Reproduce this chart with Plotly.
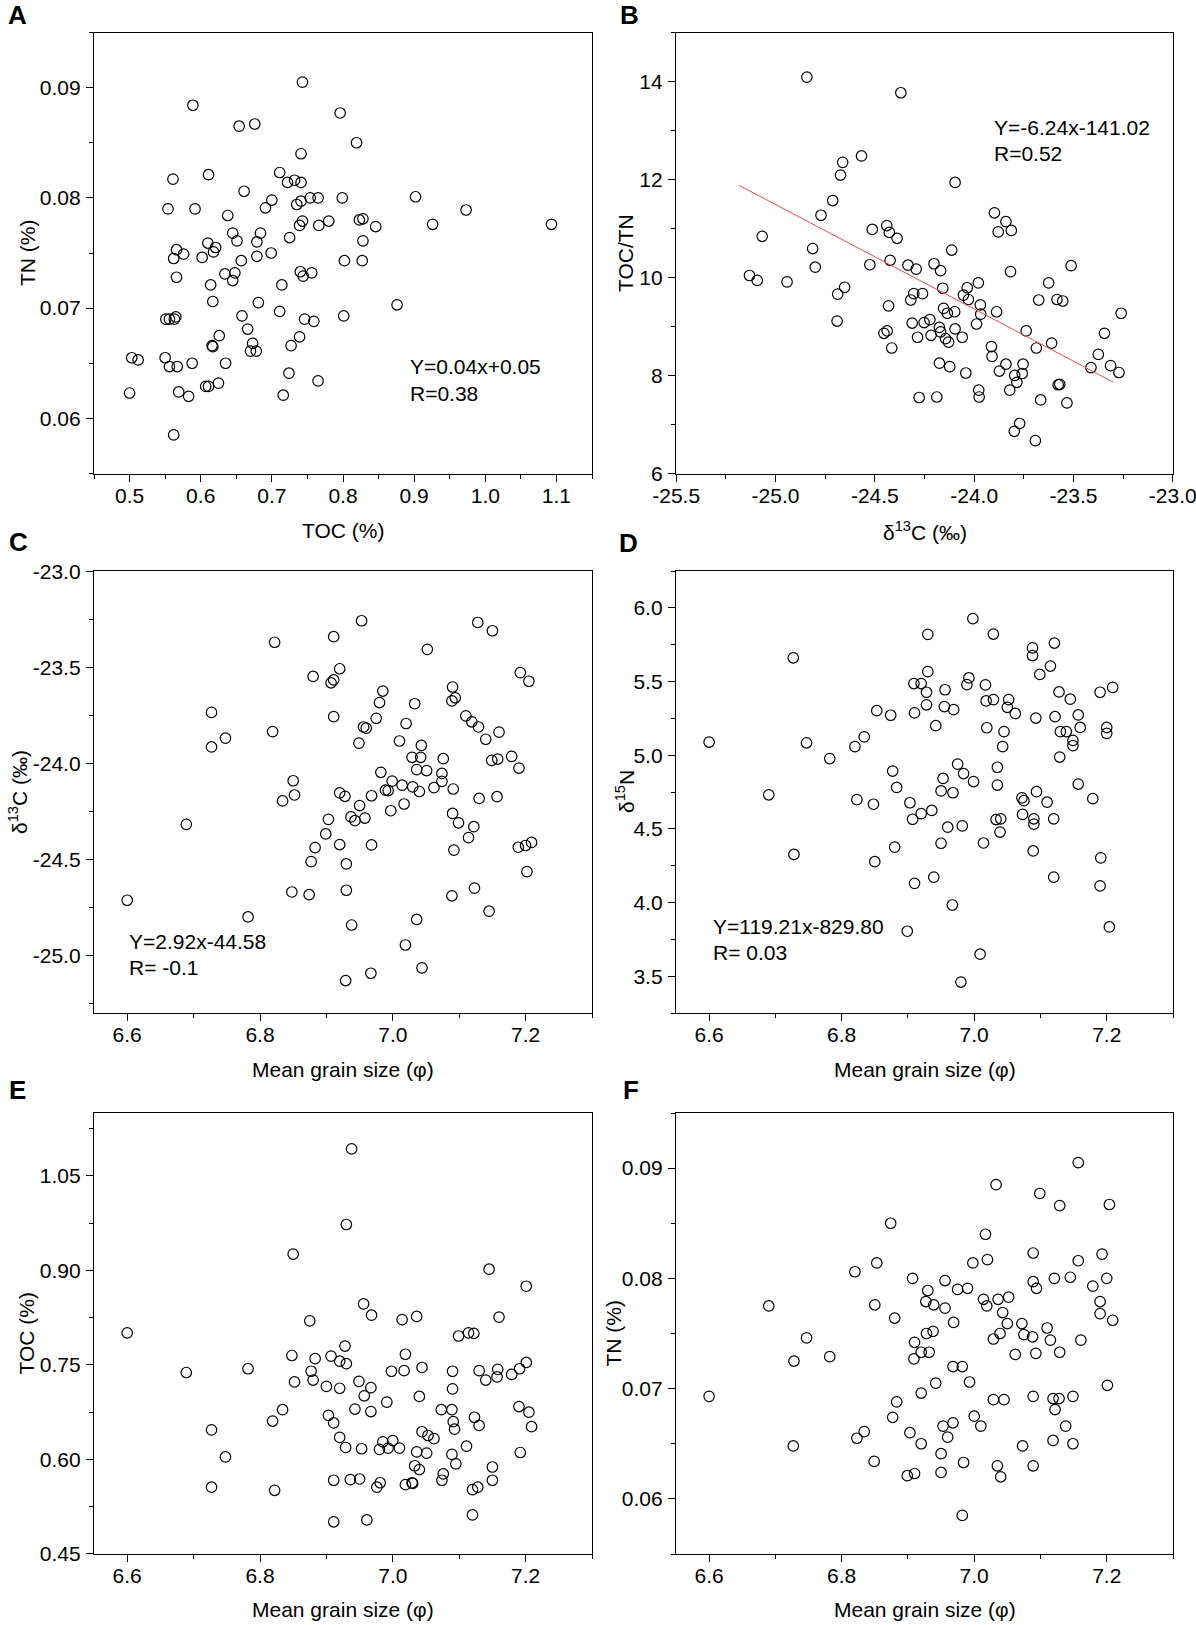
import plotly.graph_objects as go

W, H = 1196, 1625

# --- A: TOC x TN ---
a_toc = [0.743, 0.589, 0.654, 0.676, 0.796, 0.819, 0.741, 0.611, 0.561, 0.711,
         0.722, 0.732, 0.741, 0.661, 0.700, 0.691, 0.735, 0.741, 0.754, 0.765,
         0.799, 0.902, 0.973, 0.554, 0.592, 0.638, 0.743, 0.739, 0.766, 0.780,
         0.823, 0.828, 0.846, 0.926, 1.093, 0.645, 0.651, 0.684, 0.679, 0.725,
         0.828, 0.610, 0.621, 0.618, 0.566, 0.576, 0.562, 0.602, 0.657, 0.679,
         0.699, 0.802, 0.827, 0.566, 0.634, 0.645, 0.648, 0.740, 0.744, 0.756,
         0.614, 0.714, 0.617, 0.681, 0.876, 0.711, 0.658, 0.801, 0.551, 0.556,
         0.565, 0.563, 0.746, 0.759, 0.666, 0.626, 0.739, 0.673, 0.616, 0.617,
         0.727, 0.670, 0.678, 0.503, 0.512, 0.550, 0.556, 0.567, 0.588, 0.635,
         0.724, 0.765, 0.500, 0.569, 0.583, 0.607, 0.611, 0.625, 0.716, 0.562]
a_tn = [0.0905, 0.0884, 0.0865, 0.0867, 0.0877, 0.0850, 0.0840, 0.0821, 0.0817, 0.0823,
        0.0814, 0.0816, 0.0814, 0.0806, 0.0798, 0.0791, 0.0794, 0.0797, 0.0800, 0.0800,
        0.0800, 0.0801, 0.0789, 0.0790, 0.0790, 0.0784, 0.0779, 0.0775, 0.0775, 0.0779,
        0.0780, 0.0781, 0.0774, 0.0776, 0.0776, 0.0768, 0.0761, 0.0768, 0.0760, 0.0764,
        0.0761, 0.0759, 0.0755, 0.0751, 0.0753, 0.0749, 0.0745, 0.0746, 0.0743, 0.0747,
        0.0750, 0.0743, 0.0743, 0.0728, 0.0731, 0.0725, 0.0732, 0.0733, 0.0729, 0.0732,
        0.0721, 0.0721, 0.0706, 0.0705, 0.0703, 0.0697, 0.0693, 0.0693, 0.0690, 0.0690,
        0.0692, 0.0690, 0.0690, 0.0688, 0.0681, 0.0675, 0.0674, 0.0668, 0.0666, 0.0665,
        0.0666, 0.0661, 0.0661, 0.0655, 0.0653, 0.0655, 0.0647, 0.0647, 0.0650, 0.0650,
        0.0641, 0.0634, 0.0623, 0.0624, 0.0620, 0.0629, 0.0629, 0.0632, 0.0621, 0.0585]

# --- B: d13C x TOC/TN ---
b_d13c = [-24.842, -24.369, -24.567, -24.662, -24.673, -24.096, -24.712, -24.771, -25.067, -24.813,
          -24.800, -25.131, -25.092, -24.942, -24.513, -24.440, -24.427, -24.388, -24.525, -24.423,
          -24.333, -24.292, -24.202, -24.169, -24.113, -24.652, -24.687, -24.690, -24.431, -24.304,
          -24.260, -24.319, -24.158, -24.154, -24.135, -24.098, -24.054, -24.035, -24.029, -23.979,
          -23.969, -23.967, -23.988, -23.887, -23.898, -23.840, -23.879, -23.813, -23.817, -23.625,
          -23.675, -23.583, -23.554, -23.512, -23.260, -23.344, -23.375, -23.412, -23.313, -23.271,
          -23.610, -23.687, -23.738, -23.913, -23.910, -23.840, -23.873, -23.796, -23.758, -23.754,
          -23.785, -23.821, -23.577, -23.569, -23.665, -23.533, -23.771, -23.798, -23.692, -23.977,
          -23.975, -24.042, -24.123, -24.175, -24.277, -24.188, -24.060, -24.096, -24.129, -24.144,
          -24.169, -24.175, -24.217, -24.223, -24.252, -24.312, -24.285, -24.454, -24.438, -24.415]
b_ratio = [14.09, 13.77, 12.48, 12.35, 12.09, 11.94, 11.57, 11.27, 10.84, 10.59,
           10.21, 10.04, 9.94, 9.91, 10.98, 11.06, 10.92, 10.80, 10.26, 10.35,
           10.25, 10.17, 10.28, 10.14, 10.56, 9.80, 9.66, 9.11, 9.42, 9.67,
           9.67, 9.54, 9.78, 9.37, 9.27, 9.30, 9.64, 9.79, 9.55, 9.89,
           9.44, 9.25, 9.05, 9.30, 11.32, 11.14, 10.93, 10.96, 10.12, 9.89,
           9.54, 9.55, 9.52, 10.24, 9.27, 8.86, 8.43, 8.16, 8.20, 8.06,
           8.66, 8.56, 8.91, 8.59, 8.39, 8.23, 8.09, 8.00, 8.04, 8.23,
           7.86, 7.70, 7.81, 7.82, 7.50, 7.44, 7.02, 6.86, 6.67, 7.70,
           7.56, 8.05, 8.18, 8.25, 7.55, 7.56, 8.78, 8.95, 8.68, 8.75,
           8.89, 8.98, 8.82, 9.14, 9.08, 9.07, 8.78, 8.86, 8.91, 8.56]
b_fit_x = [-25.183, -23.300]
b_fit_y = [11.879, 7.865]

# --- C: grain size x d13C ---
c_grain = [6.600, 6.689, 6.727, 6.727, 6.748, 6.782, 6.822, 6.819, 6.834, 6.850,
           6.852, 6.848, 6.874, 6.877, 6.883, 6.880, 6.907, 6.911, 6.911, 6.920,
           6.911, 6.953, 6.903, 6.899, 6.920, 6.920, 6.928, 6.930, 6.930, 6.929,
           6.938, 6.937, 6.943, 6.950, 6.958, 6.949, 6.956, 6.960, 6.968, 6.968,
           6.967, 6.975, 6.980, 6.985, 6.982, 6.989, 6.993, 6.999, 6.997, 7.010,
           7.014, 7.017, 7.019, 7.020, 7.029, 7.033, 7.030, 7.036, 7.040, 7.042,
           7.043, 7.051, 7.052, 7.036, 7.044, 7.062, 7.074, 7.074, 7.076, 7.090,
           7.089, 7.094, 7.091, 7.090, 7.099, 7.092, 7.089, 7.110, 7.119, 7.129,
           7.140, 7.114, 7.122, 7.130, 7.123, 7.128, 7.150, 7.145, 7.149, 7.158,
           7.160, 7.157, 7.179, 7.190, 7.192, 7.205, 7.189, 7.200, 7.209, 7.202]
c_d13c = [-24.713, -24.318, -23.735, -23.915, -23.869, -24.800, -23.370, -23.835, -24.196, -24.091,
          -24.165, -24.670, -24.684, -24.512, -24.439, -23.548, -23.581, -23.566, -23.341, -23.508,
          -23.757, -23.258, -24.292, -24.368, -24.423, -24.154, -24.172, -24.524, -24.661, -25.131,
          -24.842, -24.279, -24.299, -24.220, -24.285, -23.895, -23.811, -23.817, -24.169, -24.425,
          -25.093, -23.766, -23.684, -23.624, -24.047, -24.140, -24.142, -24.093, -24.247, -23.884,
          -24.114, -24.212, -24.946, -23.793, -23.969, -23.690, -24.123, -24.033, -24.147, -23.969,
          -23.907, -24.038, -23.407, -24.813, -25.065, -24.127, -24.053, -24.094, -23.976, -23.603,
          -23.675, -23.659, -24.134, -24.261, -24.310, -24.452, -24.690, -23.753, -23.784, -23.811,
          -23.875, -24.387, -24.330, -24.183, -24.650, -23.267, -23.310, -24.770, -23.985, -23.978,
          -23.838, -24.174, -23.964, -24.025, -23.528, -23.573, -24.437, -24.428, -24.412, -24.564]

# --- D: grain size x d15N ---
d_grain = [6.600, 6.690, 6.727, 6.728, 6.747, 6.782, 6.820, 6.834, 6.823, 6.848,
           6.850, 6.853, 6.874, 6.877, 6.883, 6.880, 6.903, 6.907, 6.899, 6.910,
           6.909, 6.920, 6.910, 6.920, 6.928, 6.930, 6.930, 6.928, 6.942, 6.936,
           6.939, 6.953, 6.950, 6.950, 6.960, 6.956, 6.955, 6.969, 6.968, 6.967,
           6.975, 6.984, 6.982, 6.989, 6.992, 6.998, 6.999, 6.980, 7.009, 7.014,
           7.017, 7.018, 7.019, 7.029, 7.029, 7.035, 7.035, 7.033, 7.040, 7.039,
           7.045, 7.043, 7.050, 7.052, 7.062, 7.072, 7.075, 7.073, 7.088, 7.088,
           7.093, 7.094, 7.090, 7.090, 7.089, 7.110, 7.115, 7.099, 7.121, 7.122,
           7.128, 7.130, 7.129, 7.120, 7.120, 7.139, 7.145, 7.149, 7.149, 7.157,
           7.160, 7.157, 7.179, 7.190, 7.200, 7.200, 7.209, 7.191, 7.190, 7.204]
d_d15n = [5.089, 4.731, 5.661, 4.326, 5.084, 4.977, 5.058, 5.124, 4.698, 4.667,
          4.277, 5.302, 5.271, 4.892, 4.781, 4.376, 4.677, 4.565, 3.805, 4.130,
          5.486, 5.486, 5.287, 4.603, 5.427, 5.567, 5.820, 5.342, 5.200, 4.625,
          4.172, 4.842, 4.757, 4.402, 4.511, 5.444, 5.330, 5.309, 4.745, 3.983,
          4.939, 4.875, 4.520, 5.479, 5.524, 5.927, 4.821, 3.460, 3.649, 4.404,
          5.477, 5.368, 5.186, 5.822, 5.377, 4.918, 4.797, 4.563, 4.568, 4.478,
          5.160, 5.058, 5.325, 5.377, 5.283, 4.710, 4.691, 4.598, 5.728, 5.676,
          5.252, 4.752, 4.568, 4.532, 4.350, 4.681, 5.605, 5.548, 5.761, 5.261,
          5.429, 5.160, 4.987, 4.568, 4.172, 5.160, 5.380, 5.100, 5.065, 5.273,
          5.188, 4.804, 4.705, 5.427, 5.188, 5.148, 5.460, 4.303, 4.113, 3.834]

# --- E: grain size x TOC ---
e_grain = [6.600, 6.689, 6.727, 6.727, 6.748, 6.782, 6.819, 6.822, 6.834, 6.850,
           6.848, 6.852, 6.875, 6.877, 6.880, 6.883, 6.900, 6.907, 6.903, 6.911,
           6.911, 6.911, 6.920, 6.920, 6.920, 6.930, 6.928, 6.930, 6.929, 6.938,
           6.936, 6.943, 6.949, 6.950, 6.953, 6.956, 6.957, 6.968, 6.967, 6.967,
           6.961, 6.976, 6.981, 6.980, 6.985, 6.991, 6.993, 6.998, 7.000, 7.010,
           7.014, 7.017, 7.019, 7.019, 7.029, 7.030, 7.033, 7.036, 7.036, 7.040,
           7.040, 7.044, 7.044, 7.051, 7.053, 7.062, 7.073, 7.074, 7.076, 7.089,
           7.090, 7.090, 7.091, 7.093, 7.089, 7.095, 7.099, 7.111, 7.114, 7.122,
           7.123, 7.130, 7.130, 7.120, 7.128, 7.120, 7.140, 7.145, 7.150, 7.150,
           7.157, 7.158, 7.160, 7.179, 7.191, 7.201, 7.201, 7.190, 7.205, 7.209,
           7.192]
e_toc = [0.801, 0.738, 0.647, 0.556, 0.604, 0.744, 0.661, 0.551, 0.679, 0.926,
         0.765, 0.723, 0.820, 0.740, 0.726, 0.760, 0.716, 0.764, 0.670, 0.658,
         0.567, 0.501, 0.756, 0.713, 0.635, 0.973, 0.780, 0.752, 0.619, 1.093,
         0.568, 0.680, 0.724, 0.569, 0.617, 0.847, 0.701, 0.829, 0.714, 0.676,
         0.504, 0.556, 0.563, 0.616, 0.628, 0.691, 0.618, 0.740, 0.630, 0.618,
         0.822, 0.741, 0.767, 0.560, 0.563, 0.562, 0.590, 0.827, 0.612, 0.700,
         0.584, 0.746, 0.644, 0.610, 0.638, 0.633, 0.679, 0.567, 0.577, 0.679,
         0.740, 0.712, 0.660, 0.648, 0.608, 0.593, 0.796, 0.621, 0.801, 0.800,
         0.667, 0.654, 0.741, 0.552, 0.556, 0.512, 0.726, 0.902, 0.588, 0.567,
         0.731, 0.743, 0.826, 0.735, 0.744, 0.754, 0.875, 0.684, 0.675, 0.652,
         0.611]

# --- F: grain size x TN ---
f_grain = [6.600, 6.690, 6.728, 6.727, 6.747, 6.782, 6.820, 6.823, 6.834, 6.853,
           6.850, 6.849, 6.874, 6.880, 6.877, 6.883, 6.903, 6.899, 6.910, 6.907,
           6.910, 6.909, 6.920, 6.920, 6.920, 6.930, 6.927, 6.928, 6.932, 6.938,
           6.939, 6.942, 6.950, 6.950, 6.953, 6.960, 6.956, 6.956, 6.968, 6.969,
           6.968, 6.975, 6.982, 6.984, 6.982, 6.990, 6.993, 6.998, 7.000, 7.010,
           7.014, 7.017, 7.019, 7.020, 7.029, 7.029, 7.033, 7.036, 7.039, 7.035,
           7.040, 7.043, 7.045, 7.050, 7.052, 7.062, 7.072, 7.075, 7.073, 7.088,
           7.089, 7.094, 7.089, 7.093, 7.089, 7.089, 7.099, 7.110, 7.115, 7.121,
           7.119, 7.122, 7.128, 7.129, 7.119, 7.129, 7.138, 7.145, 7.149, 7.149,
           7.157, 7.157, 7.161, 7.179, 7.193, 7.190, 7.190, 7.200, 7.204, 7.209,
           7.201]
f_tn = [0.0693, 0.0775, 0.0725, 0.0648, 0.0746, 0.0729, 0.0806, 0.0655, 0.0661, 0.0814,
        0.0776, 0.0634, 0.0850, 0.0764, 0.0674, 0.0688, 0.0660, 0.0621, 0.0623, 0.0800,
        0.0742, 0.0727, 0.0733, 0.0696, 0.0650, 0.0789, 0.0779, 0.0750, 0.0733, 0.0752,
        0.0776, 0.0705, 0.0641, 0.0624, 0.0666, 0.0656, 0.0798, 0.0773, 0.0669, 0.0760,
        0.0720, 0.0790, 0.0720, 0.0633, 0.0585, 0.0791, 0.0706, 0.0814, 0.0675, 0.0666,
        0.0781, 0.0840, 0.0775, 0.0817, 0.0745, 0.0690, 0.0885, 0.0781, 0.0750, 0.0630,
        0.0620, 0.0769, 0.0690, 0.0759, 0.0783, 0.0731, 0.0759, 0.0749, 0.0648, 0.0747,
        0.0797, 0.0791, 0.0823, 0.0732, 0.0693, 0.0630, 0.0877, 0.0755, 0.0744, 0.0800,
        0.0691, 0.0681, 0.0691, 0.0733, 0.0653, 0.0866, 0.0666, 0.0801, 0.0693, 0.0650,
        0.0816, 0.0905, 0.0744, 0.0793, 0.0822, 0.0779, 0.0768, 0.0800, 0.0867, 0.0762,
        0.0703]

# tick labels (hyphen as minus, like the original)
toc_ticks = [0.5, 0.6, 0.7, 0.8, 0.9, 1.0, 1.1]
toc_labels = ['0.5', '0.6', '0.7', '0.8', '0.9', '1.0', '1.1']
tn_ticks = [0.06, 0.07, 0.08, 0.09]
tn_labels = ['0.06', '0.07', '0.08', '0.09']
d13c_x_ticks = [-25.5, -25.0, -24.5, -24.0, -23.5, -23.0]
d13c_x_labels = ['-25.5', '-25.0', '-24.5', '-24.0', '-23.5', '-23.0']
ratio_ticks = [6, 8, 10, 12, 14]
ratio_labels = ['6', '8', '10', '12', '14']
grain_ticks = [6.6, 6.8, 7.0, 7.2]
grain_labels = ['6.6', '6.8', '7.0', '7.2']
d13c_y_ticks = [-25.0, -24.5, -24.0, -23.5, -23.0]
d13c_y_labels = ['-25.0', '-24.5', '-24.0', '-23.5', '-23.0']
d15n_ticks = [3.5, 4.0, 4.5, 5.0, 5.5, 6.0]
d15n_labels = ['3.5', '4.0', '4.5', '5.0', '5.5', '6.0']
etoc_ticks = [0.45, 0.60, 0.75, 0.90, 1.05]
etoc_labels = ['0.45', '0.60', '0.75', '0.90', '1.05']

fonte = 'Liberation Sans, Arial, sans-serif'


def px(x):
    return x / W


def py(y):
    return 1 - y / H


colunas = [(94, 592), (676, 1173)]
linhas = [(32.5, 473.5), (571, 1013), (1113, 1554)]


def eixo(dom, rng, vals, texto, m0, mdt, anchor, afasta):
    return dict(domain=dom, range=rng, anchor=anchor, automargin=False,
                tickmode='array', tickvals=vals, ticktext=texto, ticklabeloverflow='allow',
                ticklabelstandoff=afasta,
                ticks='outside', ticklen=7, tickwidth=1.3, tickcolor='black',
                minor=dict(ticks='outside', ticklen=4, tickwidth=1.3, tickcolor='black',
                           tickmode='linear', tick0=m0, dtick=mdt, showgrid=False),
                showline=True, linecolor='black', linewidth=1.3, mirror=True,
                showgrid=False, zeroline=False,
                tickfont=dict(family=fonte, size=21, color='black'))


paineis = [
    dict(x=a_toc, y=a_tn, col=0, lin=0, xr=[0.45, 1.15], yr=[0.055, 0.095],
         xt=(toc_ticks, toc_labels), yt=(tn_ticks, tn_labels), xm=(0.45, 0.05), ym=(0.055, 0.005),
         xtit='TOC (%)', ytit='TN (%)', ytx=27, letra='A'),
    dict(x=b_d13c, y=b_ratio, col=1, lin=0, xr=[-25.501, -22.999], yr=[5.999, 15.0],
         xt=(d13c_x_ticks, d13c_x_labels), yt=(ratio_ticks, ratio_labels), xm=(-25.5, 0.25), ym=(6, 1),
         xtit='δ<sup>13</sup>C (‰)', ytit='TOC/TN', ytx=625, letra='B'),
    dict(x=c_grain, y=c_d13c, col=0, lin=1, xr=[6.55, 7.3], yr=[-25.3, -22.999],
         xt=(grain_ticks, grain_labels), yt=(d13c_y_ticks, d13c_y_labels), xm=(6.6, 0.1), ym=(-23.0, 0.25),
         xtit='Mean grain size (φ)', ytit='δ<sup>13</sup>C (‰)', ytx=18, letra='C'),
    dict(x=d_grain, y=d_d15n, col=1, lin=1, xr=[6.55, 7.3], yr=[3.25, 6.25],
         xt=(grain_ticks, grain_labels), yt=(d15n_ticks, d15n_labels), xm=(6.6, 0.1), ym=(3.25, 0.25),
         xtit='Mean grain size (φ)', ytit='δ<sup>15</sup>N', ytx=625, letra='D'),
    dict(x=e_grain, y=e_toc, col=0, lin=2, xr=[6.55, 7.3], yr=[0.4499, 1.15],
         xt=(grain_ticks, grain_labels), yt=(etoc_ticks, etoc_labels), xm=(6.6, 0.1), ym=(0.45, 0.075),
         xtit='Mean grain size (φ)', ytit='TOC (%)', ytx=26, letra='E'),
    dict(x=f_grain, y=f_tn, col=1, lin=2, xr=[6.55, 7.3], yr=[0.055, 0.095],
         xt=(grain_ticks, grain_labels), yt=(tn_ticks, tn_labels), xm=(6.6, 0.1), ym=(0.055, 0.005),
         xtit='Mean grain size (φ)', ytit='TN (%)', ytx=613, letra='F'),
]

fig = go.Figure()
layout = {}
anots = []
letra_pos = {'A': (17, 15), 'B': (629, 15), 'C': (18, 542), 'D': (628, 543),
             'E': (17, 1090), 'F': (631, 1090)}
xtit_y = [531, 1069, 1609]

for i, p in enumerate(paineis):
    n = '' if i == 0 else str(i + 1)
    c0, c1 = colunas[p['col']]
    l0, l1 = linhas[p['lin']]
    layout['xaxis' + n] = eixo([px(c0), px(c1)], p['xr'], p['xt'][0], p['xt'][1],
                               p['xm'][0], p['xm'][1], 'y' + n, -4)
    layout['yaxis' + n] = eixo([py(l1), py(l0)], p['yr'], p['yt'][0], p['yt'][1],
                               p['ym'][0], p['ym'][1], 'x' + n, 1)
    fig.add_trace(go.Scatter(x=p['x'], y=p['y'], mode='markers', xaxis='x' + n, yaxis='y' + n,
                             marker=dict(symbol='circle-open', size=10.5, color='black',
                                         line=dict(width=1.2))))
    anots.append(dict(text=p['xtit'], xref='paper', yref='paper', x=px((c0 + c1) / 2),
                      y=py(xtit_y[p['lin']]), xanchor='center', yanchor='middle', showarrow=False,
                      font=dict(family=fonte, size=21, color='black')))
    anots.append(dict(text=p['ytit'], xref='paper', yref='paper', x=px(p['ytx']),
                      y=py((l0 + l1) / 2), xanchor='center', yanchor='middle', showarrow=False,
                      textangle=-90, font=dict(family=fonte, size=21, color='black')))
    lx, ly = letra_pos[p['letra']]
    anots.append(dict(text='<b>' + p['letra'] + '</b>', xref='paper', yref='paper', x=px(lx),
                      y=py(ly), xanchor='center', yanchor='middle', showarrow=False,
                      font=dict(family=fonte, size=26, color='black')))

# linha de ajuste do painel B
fig.add_trace(go.Scatter(x=b_fit_x, y=b_fit_y, mode='lines', xaxis='x2', yaxis='y2',
                         line=dict(color='#ee4b4b', width=1)))

# equacoes
eqs = [('x', 'y', 0.892, 0.0647, 0.0623, 'Y=0.04x+0.05', 'R=0.38'),
       ('x2', 'y2', -23.910, 13.07, 12.54, 'Y=-6.24x-141.02', 'R=0.52'),
       ('x3', 'y3', 6.600, -24.927, -25.064, 'Y=2.92x-44.58', 'R= -0.1'),
       ('x4', 'y4', 6.603, 3.839, 3.661, 'Y=119.21x-829.80', 'R= 0.03')]
for xr, yr, x0, y1, y2, t1, t2 in eqs:
    for yy, tt in ((y1, t1), (y2, t2)):
        anots.append(dict(text=tt, xref=xr, yref=yr, x=x0, y=yy, xanchor='left',
                          yanchor='middle', showarrow=False,
                          font=dict(family=fonte, size=21, color='black')))

fig.update_layout(width=W, height=H, margin=dict(l=0, r=0, t=0, b=0),
                  plot_bgcolor='white', paper_bgcolor='white', showlegend=False,
                  font=dict(family=fonte, color='black'), annotations=anots, **layout)

# sem margem do body, para a figura ficar em (0, 0)
fig.write_html("out.html", config={'displayModeBar': False},
               post_script="document.body.style.margin='0';")
